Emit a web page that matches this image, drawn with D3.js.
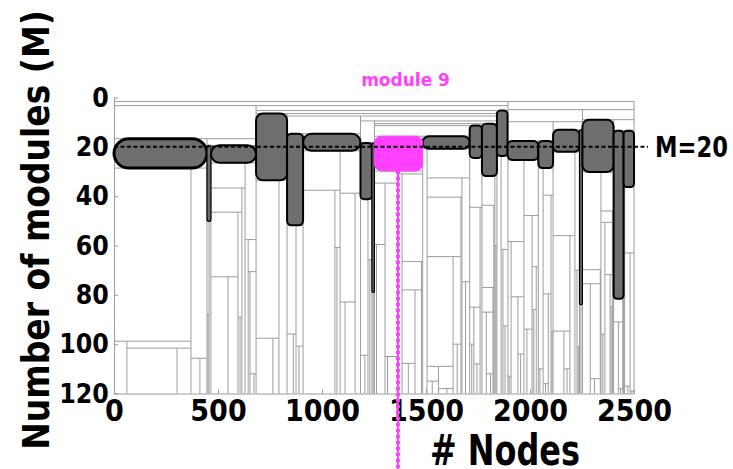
<!DOCTYPE html>
<html>
<head>
<meta charset="utf-8">
<script src="https://cdn.jsdelivr.net/npm/d3@7/dist/d3.min.js"></script>
<style>
  html, body { margin: 0; padding: 0; background: #fff; }
  svg { display: block; }
  text { font-family: "DejaVu Sans", sans-serif; font-weight: bold; }
</style>
</head>
<body>
<svg id="chart" width="733" height="469"></svg>
<script>
// Axis ticks
const xTicks = [0, 500, 1000, 1500, 2000, 2500];
const yTicks = [0, 20, 40, 60, 80, 100, 120];

// Level of the highlighted cut, the highlighted module and the node its trace follows
const cutLevel = 20;
const highlightModule = 9;
const highlightNode = 1365;

// Hierarchical splits: [first node, last node, split node, level M at which the split happens]
const splits = [
  // splits above the M = 20 cut
  [0, 2500, 1894, 1.6], [0, 1894, 683, 3.3], [1894, 2500, 2252, 4.9], [683, 1894, 1841, 5.3],
  [683, 1841, 832, 6.5], [832, 1841, 1185, 7.5], [2252, 2500, 2402, 9], [1185, 1841, 1252, 9.5],
  [1894, 2252, 2111, 9.8], [1252, 1841, 1769, 10.6], [1252, 1769, 1710, 11.4], [2111, 2252, 2238, 13.1],
  [2402, 2500, 2450, 13.5], [832, 1185, 909, 14.7], [1252, 1710, 1484, 15.7], [0, 683, 447, 16.7],
  [1894, 2111, 2040, 17.6], [1185, 1252, 1240, 18.4], [447, 683, 466, 19.4],
  // module 1
  [0, 447, 370, 28.6], [0, 370, 62, 98.8], [62, 370, 303, 101.6], [370, 447, 413, 105.7],
  // module 2
  [447, 466, 457, 50.2], [447, 457, 452, 88],
  // module 3
  [466, 683, 630, 26.5], [466, 630, 615, 36.7], [466, 615, 596, 46.5], [466, 596, 548, 72.7],
  [596, 615, 606, 89], [630, 683, 645, 57.6], [645, 683, 654, 70.6], [654, 683, 673, 112],
  // module 4
  [683, 832, 793, 33.5], [683, 793, 764, 97.6],
  // module 5
  [832, 909, 875, 51.8], [832, 875, 862, 95.9], [875, 909, 889, 100.8],
  // module 6
  [909, 1185, 1087, 21.6], [909, 1087, 1062, 37.6], [1087, 1185, 1159, 38.8],
  [1062, 1087, 1072, 60.8], [1087, 1159, 1111, 82.9],
  // module 7
  [1185, 1240, 1221, 41.2], [1221, 1240, 1230, 65.7], [1185, 1221, 1206, 104.5],
  // module 8
  [1240, 1252, 1246, 79],
  // module 9
  [1252, 1484, 1365, 29.8], [1252, 1365, 1303, 34.7], [1252, 1303, 1262, 59.6], [1303, 1365, 1315, 105],
  [1365, 1484, 1385, 31], [1385, 1484, 1478, 66.5], [1385, 1478, 1447, 78], [1385, 1447, 1415, 107.8],
  // module 10
  [1484, 1710, 1505, 20.8], [1505, 1710, 1673, 32.6], [1505, 1673, 1668, 40.4], [1505, 1668, 1630, 64.5],
  [1505, 1630, 1560, 109], [1630, 1668, 1650, 100], [1673, 1710, 1690, 74.7],
  [1505, 1560, 1530, 115], [1560, 1630, 1600, 118],
  // module 11
  [1710, 1769, 1760, 44.5], [1710, 1760, 1730, 85], [1710, 1730, 1720, 100], [1730, 1760, 1745, 108],
  // module 12
  [1769, 1841, 1831, 31.8], [1769, 1831, 1826, 43.7], [1769, 1826, 1822, 77], [1769, 1822, 1790, 87],
  [1790, 1822, 1810, 112], [1831, 1841, 1836, 60],
  // module 13
  [1841, 1892, 1861, 23.7], [1861, 1892, 1870, 61.6], [1870, 1892, 1880, 92.6],
  // module 14
  [1892, 2040, 1971, 25.3], [1892, 1971, 1909, 58.4], [1909, 1971, 1942, 80.8], [1971, 2040, 2010, 47.8],
  [2010, 2040, 2030, 68.6], [1971, 2010, 1985, 93.9], [2010, 2030, 2018, 86],
  [1892, 1909, 1900, 113], [1942, 1971, 1955, 104],
  // module 15
  [2040, 2111, 2063, 28.6], [2063, 2111, 2101, 39.6], [2063, 2101, 2088, 79.6], [2040, 2063, 2048, 110],
  [2063, 2088, 2075, 116], [2101, 2111, 2106, 95],
  // module 16
  [2111, 2238, 2216, 22], [2111, 2216, 2192, 56], [2111, 2192, 2163, 94.7], [2216, 2238, 2226, 70],
  [2163, 2192, 2178, 110], [2226, 2238, 2232, 101],
  // module 17
  [2238, 2252, 2245, 84],
  // module 18
  [2252, 2402, 2341, 30.2], [2252, 2341, 2338, 69.8], [2252, 2338, 2290, 75.5], [2341, 2402, 2396, 46],
  [2341, 2396, 2360, 50.6], [2360, 2396, 2385, 71.8], [2385, 2396, 2390, 84.9],
  [2290, 2338, 2310, 114], [2341, 2360, 2350, 96],
  // module 19
  [2402, 2450, 2446, 81.6], [2402, 2446, 2425, 91], [2425, 2446, 2435, 118],
  // module 20
  [2450, 2500, 2455, 36.3], [2455, 2500, 2481, 63], [2455, 2481, 2470, 117], [2481, 2500, 2490, 119]
];

// Modules present at the M = 20 cut, numbered 1..20 from left to right
const moduleFirstNode = [0, 447, 466, 683, 832, 909, 1185, 1240, 1252, 1484, 1710, 1769, 1841, 1892, 2040, 2111, 2238, 2252, 2402, 2450];
const moduleLastNode  = [447, 466, 683, 832, 909, 1185, 1240, 1252, 1484, 1710, 1769, 1841, 1892, 2040, 2111, 2238, 2252, 2402, 2450, 2500];
const moduleBornAt    = [16.7, 19.4, 19.4, 6.5, 14.7, 14.7, 18.4, 18.4, 15.7, 15.7, 11.4, 10.6, 5.3, 17.6, 17.6, 13.1, 13.1, 9, 13.5, 13.5];
const moduleSplitAt   = [28.6, 50.2, 26.5, 33.5, 51.8, 21.6, 41.2, 79, 29.8, 20.8, 24.5, 31.8, 23.7, 25.3, 28.6, 22, 84, 30.2, 81.6, 36.3];

const svg = d3.select("#chart");
const W = 733, H = 469;

const x = d3.scaleLinear().domain([0, 2500]).range([114, 634]);
const y = d3.scaleLinear().domain([0, 120]).range([97.5, 393.5]);

const lineGrey = "#9c9c9c";
const magenta = "#ff40ff";

// Title sits above the top edge; only the tail of its last letter shows
svg.append("text")
  .attr("x", 522).attr("y", -9)
  .attr("text-anchor", "end")
  .attr("font-size", 40)
  .text("Module map");

// Hierarchy: horizontal cut across the parent, vertical boundary down to the last level
const gTree = svg.append("g").attr("stroke", lineGrey).attr("stroke-width", 1).attr("fill", "none");
gTree.selectAll("line.h").data(splits).join("line")
  .attr("x1", d => x(d[0])).attr("x2", d => x(d[1]))
  .attr("y1", d => y(d[3])).attr("y2", d => y(d[3]));
gTree.selectAll("line.v").data(splits).join("line")
  .attr("x1", d => x(d[2])).attr("x2", d => x(d[2]))
  .attr("y1", d => y(d[3])).attr("y2", y(120));
// right border of the whole node range
gTree.append("line")
  .attr("x1", x(2500)).attr("x2", x(2500))
  .attr("y1", y(splits[0][3])).attr("y2", y(120));

// Axes
const yAxis = d3.axisLeft(y).tickValues(yTicks).tickFormat(d3.format("d"))
  .tickSizeInner(-4).tickSizeOuter(0).tickPadding(6);
const xAxis = d3.axisBottom(x).tickValues(xTicks).tickFormat(d3.format("d"))
  .tickSizeInner(-4).tickSizeOuter(0).tickPadding(6);

const gy = svg.append("g").attr("transform", `translate(${x(0)},0)`).call(yAxis);
const gx = svg.append("g").attr("transform", `translate(0,${y(120)})`).call(xAxis);
[gy, gx].forEach(g => {
  g.select(".domain").attr("stroke", lineGrey);
  g.selectAll(".tick line").attr("stroke", lineGrey);
  g.selectAll(".tick text")
    .attr("fill", "#000")
    .attr("font-family", "DejaVu Sans, sans-serif")
    .attr("font-weight", "bold");
});
gy.selectAll(".tick text").attr("font-size", 27).attr("transform", "scale(0.88,1)");
gx.selectAll(".tick text").attr("font-size", 30).attr("transform", "scale(0.9,1)");

// Modules at the cut
const modules = moduleFirstNode.map((n0, i) => ({
  id: i + 1, n0, n1: moduleLastNode[i], m0: moduleBornAt[i], m1: moduleSplitAt[i]
}));

function cornerRadius(w, h) {
  if (w >= 1.8 * h) return h / 2;
  return Math.min(w, h) * 0.15 + 2;
}

const gMods = svg.append("g");
function drawModule(sel) {
  sel.each(function(d) {
    const x0 = x(d.n0), x1 = x(d.n1), y0 = y(d.m0), y1 = y(d.m1);
    const w = x1 - x0, h = y1 - y0;
    const r = Math.min(cornerRadius(w, h), w / 2);
    const hl = d.id === highlightModule;
    d3.select(this)
      .attr("x", x0).attr("y", y0).attr("width", w).attr("height", h)
      .attr("rx", r).attr("ry", r)
      .attr("fill", hl ? magenta : "#6e6e6e")
      .attr("stroke", hl ? magenta : "#000")
      .attr("stroke-width", hl ? 1 : (w < 6 ? 1.2 : (w > 80 ? 3 : 2)));
  });
}
gMods.selectAll("rect").data(modules.filter(d => d.id !== highlightModule)).join("rect").call(drawModule);

// Cut line at M = 20
svg.append("line")
  .attr("x1", x(0)).attr("x2", 648)
  .attr("y1", y(cutLevel)).attr("y2", y(cutLevel))
  .attr("stroke", "#000").attr("stroke-width", 2)
  .attr("stroke-dasharray", "4,2.5");
svg.append("text")
  .attr("transform", `translate(655,${y(cutLevel) + 10}) scale(0.78,1)`)
  .attr("font-size", 29)
  .text("M=" + cutLevel);

// Highlighted module and its trace
const hlMod = modules.find(d => d.id === highlightModule);
svg.append("line")
  .attr("x1", x(highlightNode)).attr("x2", x(highlightNode))
  .attr("y1", y(hlMod.m1)).attr("y2", H)
  .attr("stroke", magenta).attr("stroke-width", 2);
svg.append("line")
  .attr("x1", x(highlightNode)).attr("x2", x(highlightNode))
  .attr("y1", y(hlMod.m1)).attr("y2", H)
  .attr("stroke", magenta).attr("stroke-width", 4)
  .attr("stroke-dasharray", "3,3");
gMods.append("rect").datum(hlMod).call(drawModule);
svg.append("text")
  .attr("x", (x(hlMod.n0) + x(hlMod.n1)) / 2 + 7).attr("y", 86)
  .attr("text-anchor", "middle")
  .attr("font-size", 17)
  .attr("fill", magenta)
  .text("module " + highlightModule);

// Axis titles
svg.append("text")
  .attr("transform", `translate(49,230) rotate(-90) scale(1,1.15)`)
  .attr("text-anchor", "middle")
  .attr("font-size", 33)
  .text("Number of modules (M)");
svg.append("text")
  .attr("transform", "translate(505,465) scale(0.76,1)")
  .attr("text-anchor", "middle")
  .attr("font-size", 42)
  .text("# Nodes");
</script>
</body>
</html>
